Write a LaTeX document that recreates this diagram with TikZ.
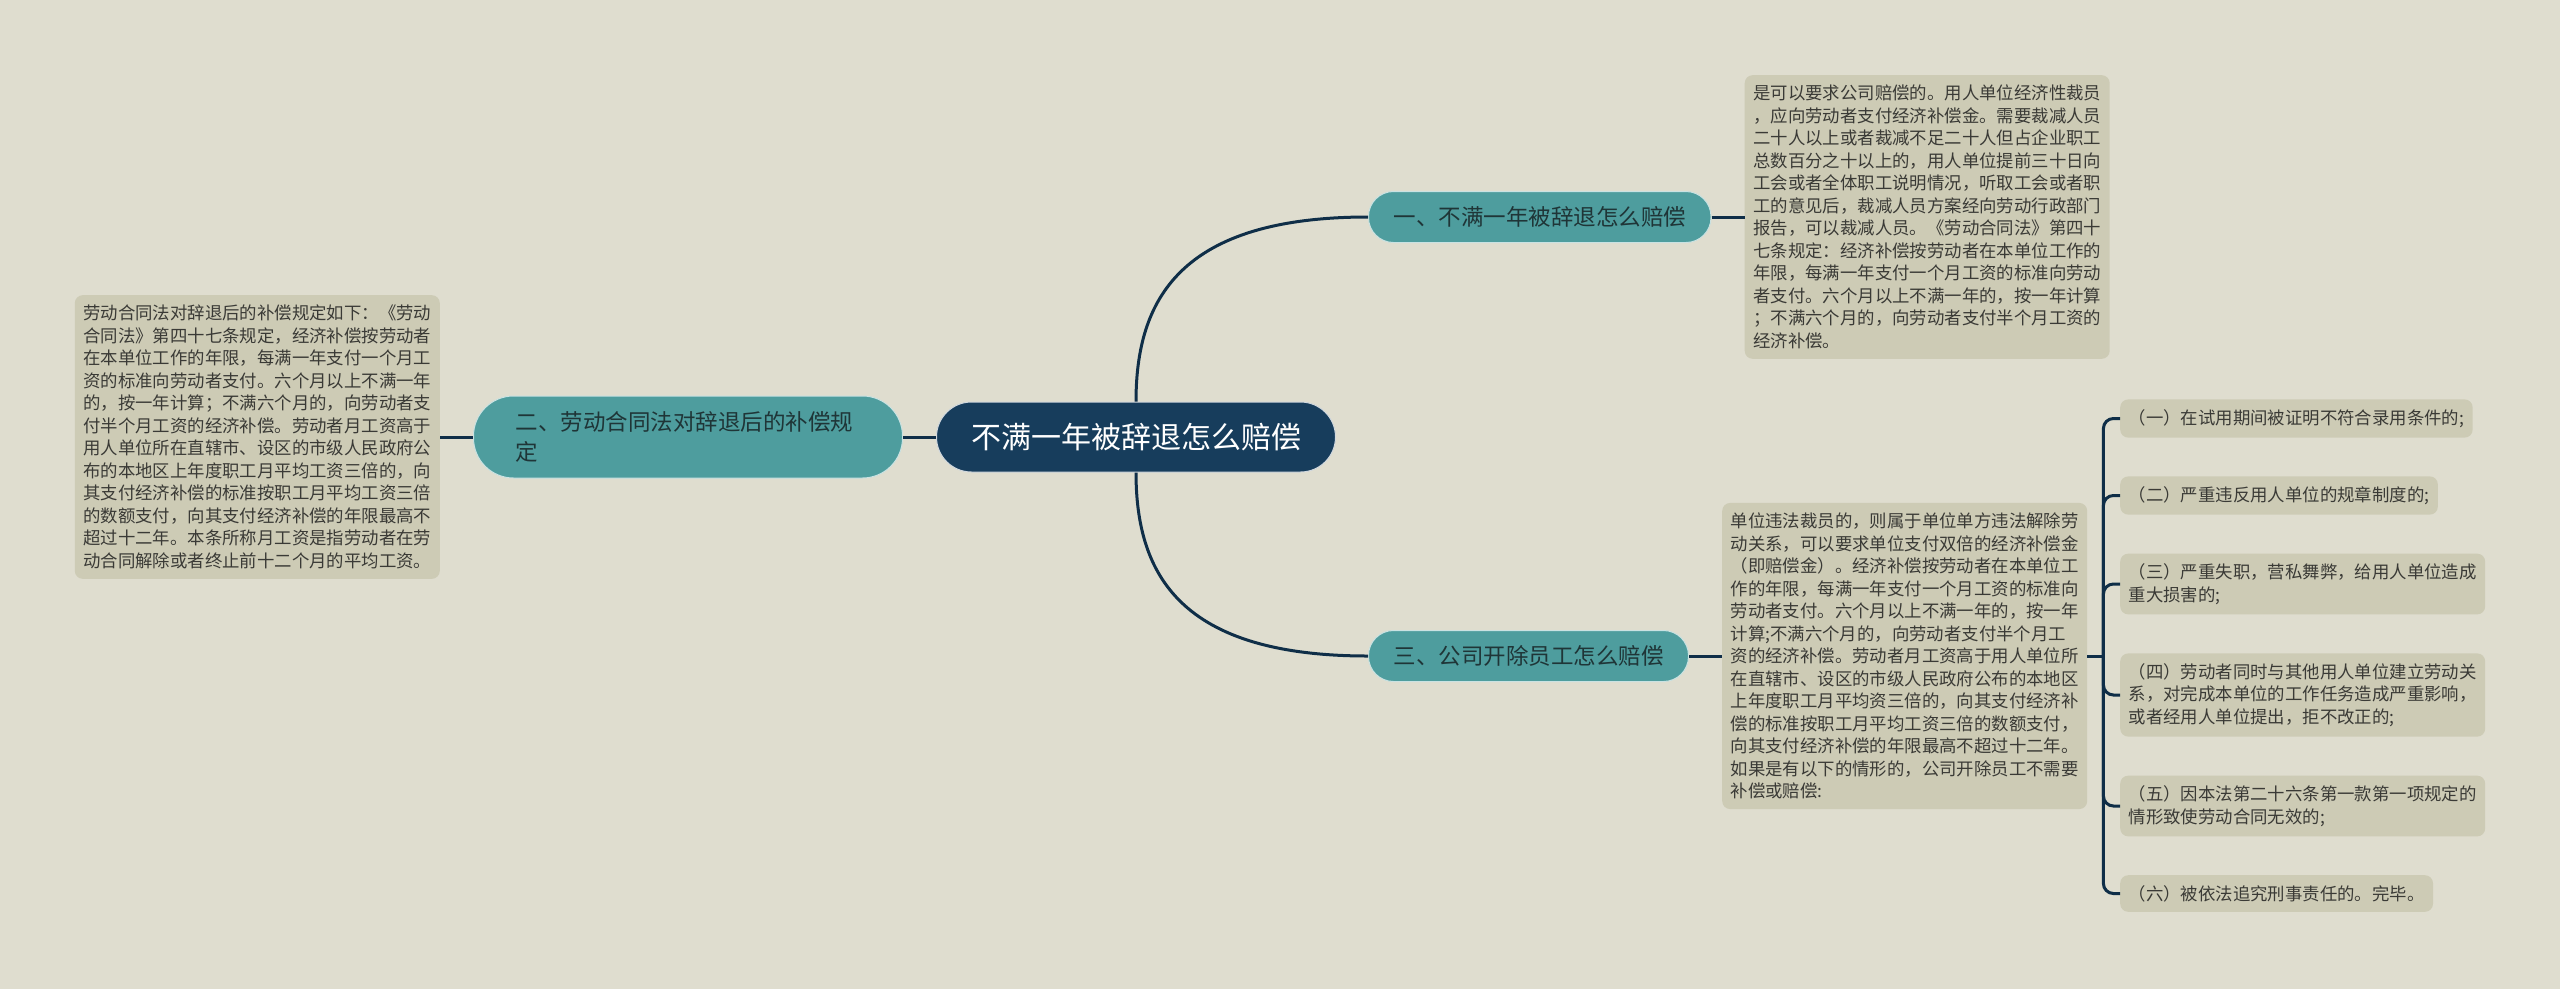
\documentclass[tikz,border=0pt]{standalone}
\usepackage{fontspec}
\setmainfont{Noto Sans CJK SC}
\usepackage{tikz}
\usetikzlibrary{positioning}
\definecolor{bgcolor}{HTML}{DFDDCF}
\definecolor{boxfill}{HTML}{CDCBB5}
\definecolor{teal-fill}{HTML}{4E9D9E}
\definecolor{navy-fill}{HTML}{173D5C}
\definecolor{link-color}{HTML}{0F2E48}
\definecolor{box-text}{HTML}{3A3A36}
\definecolor{teal-text}{HTML}{1F3537}
\tikzset{
    root-node/.style = {fill=navy-fill, draw=white!80!navy-fill, line width=1pt, rectangle, rounded corners=35pt, minimum width=399pt, minimum height=70pt, text=white, font=\fontsize{30}{34}\selectfont},
    branch-node/.style = {fill=teal-fill, draw=white!70!teal-fill, line width=1pt, rectangle, rounded corners=25pt, minimum height=51pt, inner xsep=25pt, inner ysep=0pt, text=teal-text, font=\fontsize{22.5}{30}\selectfont},
    text-box/.style = {fill=boxfill, rectangle, rounded corners=8pt, inner xsep=8.5pt, inner ysep=10pt, align=left, text=box-text, font=\fontsize{17.4}{22.5}\selectfont},
    item-box/.style = {text-box, anchor=west},
    link/.style = {draw=link-color, line width=3pt},
}

\begin{document}
\begin{tikzpicture}[x=1pt, y=-1pt]
\fill[bgcolor] (0,0) rectangle (2560,989);
\useasboundingbox (0,0) rectangle (2560,989);

% centre and main branches
\node[root-node] (root) at (1136,437) {不满一年被辞退怎么赔偿};
\node[branch-node, anchor=west] (b1) at (1368,217) {一、不满一年被辞退怎么赔偿};
\node[branch-node, rounded corners=40pt, minimum height=82pt, inner xsep=42pt, text width=345pt, align=left, left=33pt of root] (b2) {二、劳动合同法对辞退后的补偿规\\定};
\node[branch-node, anchor=west] (b3) at (1368,656) {三、公司开除员工怎么赔偿};

% text boxes
\node[text-box, right=33pt of b1] (t1) {是可以要求公司赔偿的。用人单位经济性裁员\\
，应向劳动者支付经济补偿金。需要裁减人员\\
二十人以上或者裁减不足二十人但占企业职工\\
总数百分之十以上的，用人单位提前三十日向\\
工会或者全体职工说明情况，听取工会或者职\\
工的意见后，裁减人员方案经向劳动行政部门\\
报告，可以裁减人员。《劳动合同法》第四十\\
七条规定：经济补偿按劳动者在本单位工作的\\
年限，每满一年支付一个月工资的标准向劳动\\
者支付。六个月以上不满一年的，按一年计算\\
；不满六个月的，向劳动者支付半个月工资的\\
经济补偿。};
\node[text-box, left=33pt of b2] (t2) {劳动合同法对辞退后的补偿规定如下：《劳动\\
合同法》第四十七条规定，经济补偿按劳动者\\
在本单位工作的年限，每满一年支付一个月工\\
资的标准向劳动者支付。六个月以上不满一年\\
的，按一年计算；不满六个月的，向劳动者支\\
付半个月工资的经济补偿。劳动者月工资高于\\
用人单位所在直辖市、设区的市级人民政府公\\
布的本地区上年度职工月平均工资三倍的，向\\
其支付经济补偿的标准按职工月平均工资三倍\\
的数额支付，向其支付经济补偿的年限最高不\\
超过十二年。本条所称月工资是指劳动者在劳\\
动合同解除或者终止前十二个月的平均工资。};
\node[text-box, right=33pt of b3] (t3) {单位违法裁员的，则属于单位单方违法解除劳\\
动关系，可以要求单位支付双倍的经济补偿金\\
（即赔偿金）。经济补偿按劳动者在本单位工\\
作的年限，每满一年支付一个月工资的标准向\\
劳动者支付。六个月以上不满一年的，按一年\\
计算;不满六个月的，向劳动者支付半个月工\\
资的经济补偿。劳动者月工资高于用人单位所\\
在直辖市、设区的市级人民政府公布的本地区\\
上年度职工月平均资三倍的，向其支付经济补\\
偿的标准按职工月平均工资三倍的数额支付，\\
向其支付经济补偿的年限最高不超过十二年。\\
如果是有以下的情形的，公司开除员工不需要\\
补偿或赔偿:};

% cases
\node[item-box] (c1) at (2120,418.5) {（一）在试用期间被证明不符合录用条件的;};
\node[item-box] (c2) at (2120,495.5) {（二）严重违反用人单位的规章制度的;};
\node[item-box] (c3) at (2120,584) {（三）严重失职，营私舞弊，给用人单位造成\\重大损害的;};
\node[item-box] (c4) at (2120,695) {（四）劳动者同时与其他用人单位建立劳动关\\系，对完成本单位的工作任务造成严重影响，\\或者经用人单位提出，拒不改正的;};
\node[item-box] (c5) at (2120,806) {（五）因本法第二十六条第一款第一项规定的\\情形致使劳动合同无效的;};
\node[item-box] (c6) at (2120,893.5) {（六）被依法追究刑事责任的。完毕。};

% connectors
\draw[link] (root.north) .. controls +(0,-102) and +(-188,0) .. (b1.west);
\draw[link] (root.south) .. controls +(0,102) and +(-188,0) .. (b3.west);
\draw[link] (root.west) -- (b2.east);
\draw[link] (b2.west) -- (t2.east);
\draw[link] (b1.east) -- (t1.west);
\draw[link] (b3.east) -- (t3.west);
\coordinate (fork) at ([xshift=16pt]t3.east);
\draw[link] (t3.east) -- (fork);
\foreach \c in {c1,c2,c3,c4,c5,c6}
    \draw[link, rounded corners=10pt] (fork) |- (\c.west);
\end{tikzpicture}
\end{document}
